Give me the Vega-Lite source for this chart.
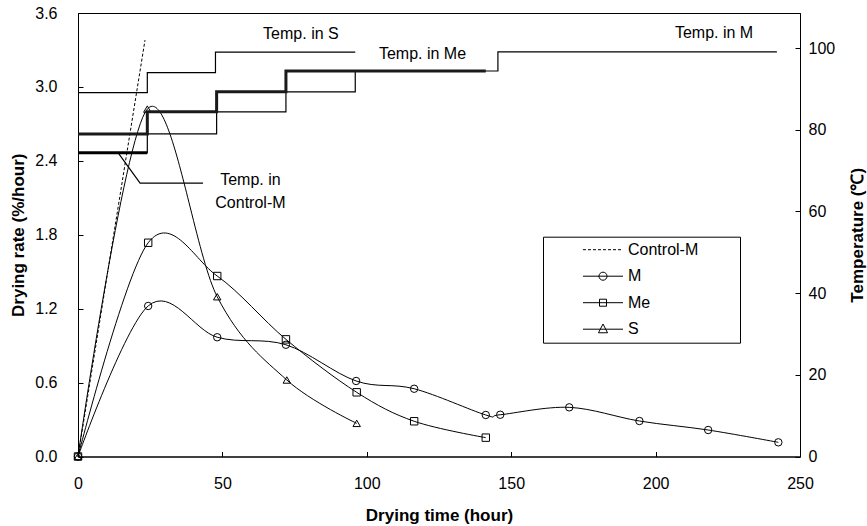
{
  "$schema": "https://vega.github.io/schema/vega-lite/v6.json",
  "width": 722,
  "height": 443.5,
  "autosize": {"type": "none"},
  "padding": {"left": 78, "top": 13, "right": 67, "bottom": 69.5},
  "background": "white",
  "config": {
    "view": {"stroke": "black", "strokeWidth": 1},
    "font": "Liberation Sans",
    "axis": {
      "domainColor": "black", "domainWidth": 1, "tickColor": "black", "tickWidth": 1,
      "labelColor": "black", "titleColor": "black",
      "labelFont": "Liberation Sans", "labelFontSize": 16,
      "titleFont": "Liberation Sans", "titleFontSize": 17, "titleFontWeight": "bold",
      "grid": false, "tickSize": -5, "labelFlush": false
    }
  },
  "datasets": {
    "rate": [
      {"series": "M", "time": 0, "rate": 0},
      {"series": "M", "time": 24.3, "rate": 1.222},
      {"series": "M", "time": 48.2, "rate": 0.968},
      {"series": "M", "time": 72.0, "rate": 0.907},
      {"series": "M", "time": 96.3, "rate": 0.613},
      {"series": "M", "time": 116.4, "rate": 0.55},
      {"series": "M", "time": 141.2, "rate": 0.337},
      {"series": "M", "time": 146.2, "rate": 0.339},
      {"series": "M", "time": 170.1, "rate": 0.399},
      {"series": "M", "time": 194.4, "rate": 0.288},
      {"series": "M", "time": 218.2, "rate": 0.215},
      {"series": "M", "time": 242.5, "rate": 0.115},
      {"series": "Me", "time": 0, "rate": 0},
      {"series": "Me", "time": 24.3, "rate": 1.735},
      {"series": "Me", "time": 48.2, "rate": 1.465},
      {"series": "Me", "time": 72.0, "rate": 0.951},
      {"series": "Me", "time": 96.5, "rate": 0.521},
      {"series": "Me", "time": 116.4, "rate": 0.286},
      {"series": "Me", "time": 141.2, "rate": 0.153},
      {"series": "S", "time": 0, "rate": 0},
      {"series": "S", "time": 24, "rate": 2.82},
      {"series": "S", "time": 48.2, "rate": 1.297},
      {"series": "S", "time": 72.3, "rate": 0.621},
      {"series": "S", "time": 96.5, "rate": 0.269},
      {"series": "Control-M", "time": 0, "rate": 0},
      {"series": "Control-M", "time": 23.2, "rate": 3.38}
    ],
    "temp": [
      {"prog": "Control-M", "time": 0, "temp": 74.4},
      {"prog": "Control-M", "time": 24, "temp": 74.4},
      {"prog": "M", "time": 0, "temp": 74.4},
      {"prog": "M", "time": 24, "temp": 79.0},
      {"prog": "M", "time": 48, "temp": 84.4},
      {"prog": "M", "time": 72, "temp": 89.3},
      {"prog": "M", "time": 96, "temp": 94.4},
      {"prog": "M", "time": 145.4, "temp": 99.1},
      {"prog": "M", "time": 242, "temp": 99.1},
      {"prog": "Me", "time": 0, "temp": 79.0},
      {"prog": "Me", "time": 24, "temp": 84.4},
      {"prog": "Me", "time": 48, "temp": 89.3},
      {"prog": "Me", "time": 72, "temp": 94.4},
      {"prog": "Me", "time": 141.2, "temp": 94.4},
      {"prog": "S", "time": 0, "temp": 89.1},
      {"prog": "S", "time": 24, "temp": 94.0},
      {"prog": "S", "time": 47.6, "temp": 99.0},
      {"prog": "S", "time": 96, "temp": 99.0}
    ],
    "leader": [
      {"ord": 1, "time": 13.85, "temp": 74.4},
      {"ord": 2, "time": 21.5, "temp": 66.95},
      {"ord": 3, "time": 43.3, "temp": 66.95}
    ],
    "one": [{}]
  },
  "layer": [
    {
      "layer": [
        {
          "data": {"name": "rate"},
          "transform": [{"filter": "datum.series !== 'Control-M'"}],
          "mark": {"type": "line", "interpolate": "cardinal", "color": "black", "strokeWidth": 1},
          "encoding": {
            "x": {"field": "time", "type": "quantitative", "scale": {"domain": [0, 250], "nice": false, "zero": false},
                  "axis": {"title": "Drying time (hour)", "values": [0, 50, 100, 150, 200, 250], "labelPadding": 23.5, "titleY": 58.5, "titleBaseline": "middle"}},
            "y": {"field": "rate", "type": "quantitative", "scale": {"domain": [0, 3.6], "nice": false},
                  "axis": {"title": "Drying rate (%/hour)", "orient": "left", "values": [0, 0.6, 1.2, 1.8, 2.4, 3.0, 3.6], "format": ".1f", "labelPadding": 26, "titleX": -60, "titleY": 221.75, "titleAngle": 270, "titleBaseline": "middle", "titleAlign": "center"}},
            "detail": {"field": "series"}
          }
        },
        {
          "data": {"name": "rate"},
          "transform": [{"filter": "datum.series === 'Control-M'"}],
          "mark": {"type": "line", "color": "black", "strokeWidth": 1, "strokeDash": [3, 2]},
          "encoding": {
            "x": {"field": "time", "type": "quantitative"},
            "y": {"field": "rate", "type": "quantitative"}
          }
        },
        {
          "data": {"name": "rate"},
          "transform": [{"filter": "datum.series !== 'Control-M'"}],
          "mark": {"type": "point", "filled": false, "color": "black", "strokeWidth": 1, "size": 55, "opacity": 1},
          "encoding": {
            "x": {"field": "time", "type": "quantitative"},
            "y": {"field": "rate", "type": "quantitative"},
            "shape": {
              "field": "series", "type": "nominal",
              "scale": {"domain": ["M", "Me", "S"], "range": ["circle", "square", "triangle-up"]},
              "legend": null
            }
          }
        },
        {
          "data": {"name": "rate"},
          "mark": {"type": "point", "filled": false, "color": "black", "strokeWidth": 1, "size": 169, "opacity": 0},
          "encoding": {
            "x": {"field": "time", "type": "quantitative"},
            "y": {"field": "rate", "type": "quantitative"},
            "shape": {
              "field": "series", "type": "nominal",
              "scale": {
                "domain": ["Control-M", "M", "Me", "S"],
                "range": [
                  "M-3.08,0H-2.62M-2.31,0H-1.85M-1.54,0H-1.08M-0.77,0H-0.31M0,0H0.46M0.77,0H1.23M1.54,0H2M2.31,0H2.77",
                  "M-3.08,0H3.08M0.62,0A0.62,0.62,0,1,1,-0.62,0A0.62,0.62,0,1,1,0.62,0",
                  "M-3.08,0H3.08M-0.54,-0.54H0.54V0.54H-0.54Z",
                  "M-3.08,0H3.08M0,-0.8L0.7,0.55H-0.7Z"
                ]
              },
              "legend": {
                "orient": "none", "legendX": 465, "legendY": 223.7, "title": null,
                "padding": 5, "strokeColor": "black", "fillColor": "white",
                "symbolOffset": 47, "labelOffset": 17, "rowPadding": 10.5,
                "labelFont": "Liberation Sans", "labelFontSize": 16, "labelColor": "black",
                "labelExpr": "datum.label + '\u2800\u2800\u2800'",
                "symbolSize": 169, "symbolStrokeWidth": 1, "symbolStrokeColor": "black",
                "symbolFillColor": "transparent", "symbolOpacity": 1
              }
            }
          }
        }
      ],
      "resolve": {"scale": {"shape": "independent"}, "legend": {"shape": "independent"}}
    },
    {
      "layer": [
        {
          "data": {"name": "temp"},
          "transform": [{"filter": "datum.prog === 'M'"}],
          "mark": {"type": "line", "interpolate": "step-after", "color": "black", "strokeWidth": 1.2},
          "encoding": {
            "x": {"field": "time", "type": "quantitative"},
            "y": {"field": "temp", "type": "quantitative", "scale": {"domain": [0, 108.6], "nice": false},
                  "axis": {"title": "Temperature (℃)", "orient": "right", "values": [0, 20, 40, 60, 80, 100], "labelPadding": 13, "titleX": 57, "titleY": 221.75, "titleAngle": 270, "titleBaseline": "middle", "titleAlign": "center"}}
          }
        },
        {
          "data": {"name": "temp"},
          "transform": [{"filter": "datum.prog === 'S'"}],
          "mark": {"type": "line", "interpolate": "step-after", "color": "black", "strokeWidth": 1.2},
          "encoding": {
            "x": {"field": "time", "type": "quantitative"},
            "y": {"field": "temp", "type": "quantitative"}
          }
        },
        {
          "data": {"name": "temp"},
          "transform": [{"filter": "datum.prog === 'Me'"}],
          "mark": {"type": "line", "interpolate": "step-after", "color": "#1a1a1a", "strokeWidth": 3},
          "encoding": {
            "x": {"field": "time", "type": "quantitative"},
            "y": {"field": "temp", "type": "quantitative"}
          }
        },
        {
          "data": {"name": "temp"},
          "transform": [{"filter": "datum.prog === 'Control-M'"}],
          "mark": {"type": "line", "interpolate": "step-after", "color": "black", "strokeWidth": 3},
          "encoding": {
            "x": {"field": "time", "type": "quantitative"},
            "y": {"field": "temp", "type": "quantitative"}
          }
        },
        {
          "data": {"name": "leader"},
          "mark": {"type": "line", "color": "black", "strokeWidth": 1.2},
          "encoding": {
            "x": {"field": "time", "type": "quantitative"},
            "y": {"field": "temp", "type": "quantitative"},
            "order": {"field": "ord"}
          }
        },
        {
          "data": {"name": "one"},
          "mark": {"type": "text", "align": "left", "baseline": "middle", "fontSize": 16, "font": "Liberation Sans", "color": "black"},
          "encoding": {"x": {"datum": 64.1}, "y": {"datum": 103.5}, "text": {"value": "Temp. in S"}}
        },
        {
          "data": {"name": "one"},
          "mark": {"type": "text", "align": "left", "baseline": "middle", "fontSize": 16, "font": "Liberation Sans", "color": "black"},
          "encoding": {"x": {"datum": 104.2}, "y": {"datum": 98.6}, "text": {"value": "Temp. in Me"}}
        },
        {
          "data": {"name": "one"},
          "mark": {"type": "text", "align": "left", "baseline": "middle", "fontSize": 16, "font": "Liberation Sans", "color": "black"},
          "encoding": {"x": {"datum": 206.7}, "y": {"datum": 103.7}, "text": {"value": "Temp. in M"}}
        },
        {
          "data": {"name": "one"},
          "mark": {"type": "text", "align": "center", "baseline": "middle", "fontSize": 16, "font": "Liberation Sans", "color": "black"},
          "encoding": {"x": {"datum": 59.7}, "y": {"datum": 67.8}, "text": {"value": "Temp. in"}}
        },
        {
          "data": {"name": "one"},
          "mark": {"type": "text", "align": "center", "baseline": "middle", "fontSize": 16, "font": "Liberation Sans", "color": "black"},
          "encoding": {"x": {"datum": 59.7}, "y": {"datum": 62.1}, "text": {"value": "Control-M"}}
        }
      ]
    }
  ],
  "resolve": {"scale": {"y": "independent"}}
}
